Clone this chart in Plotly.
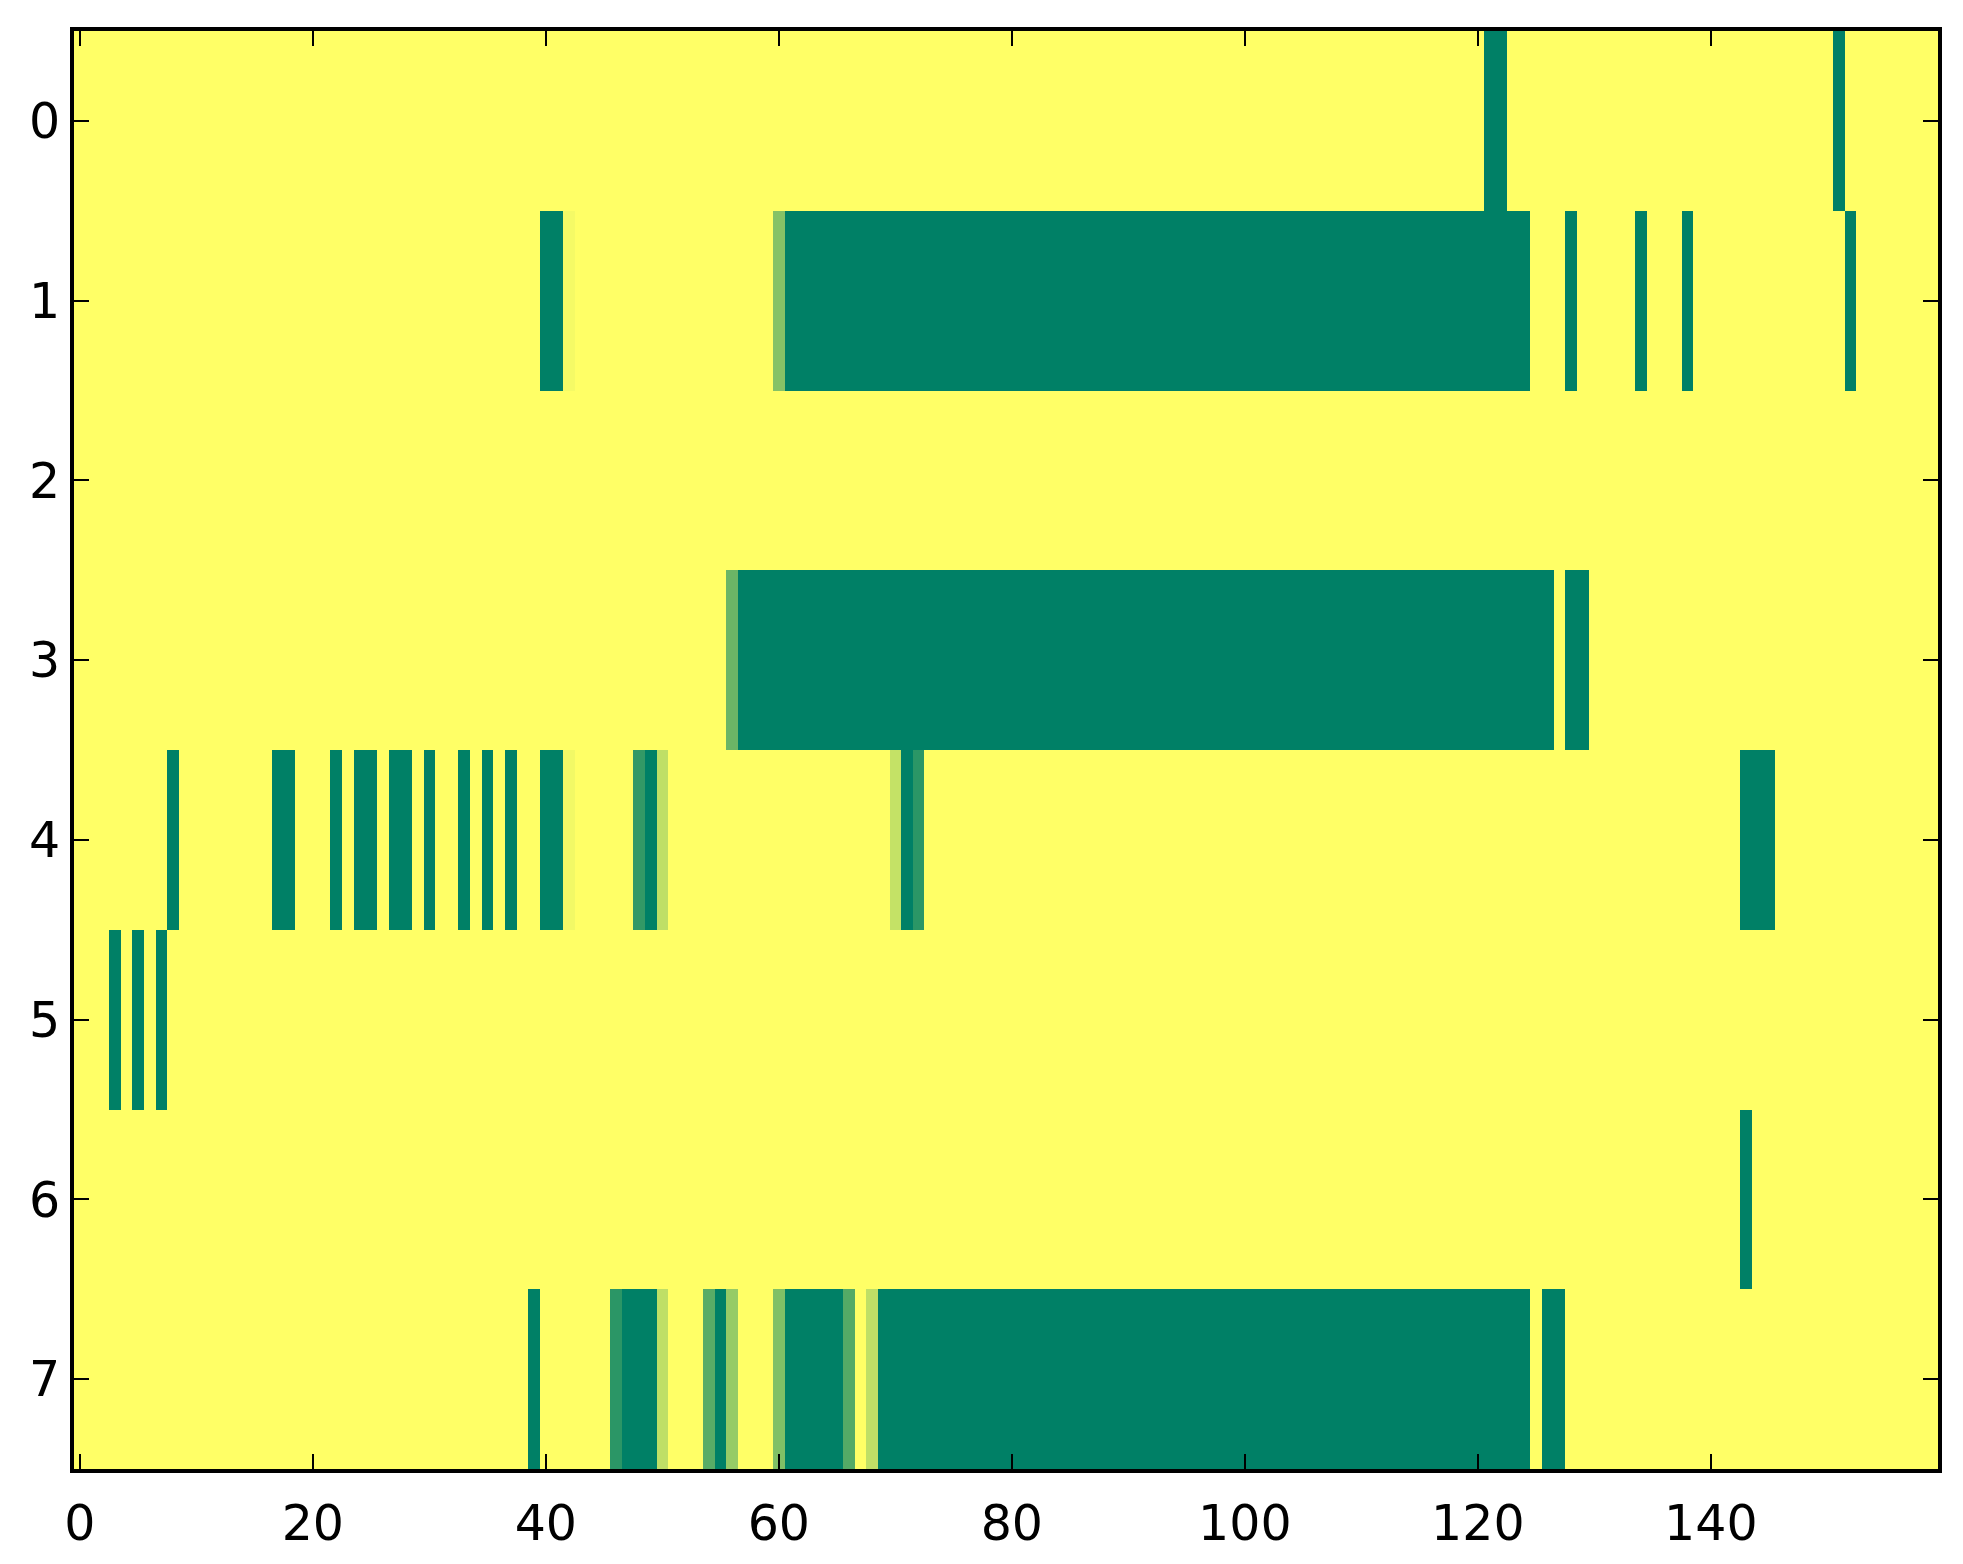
import numpy as np
import plotly.graph_objects as go

# Grid size
n_rows = 8
n_cols = 160

# Filled cells per row as (first column, last column, value); everything else is 0
row0 = [(121, 122, 1.0), (151, 151, 1.0)]
row1 = [(40, 41, 1.0), (42, 42, 0.04), (60, 60, 0.48), (61, 124, 1.0),
        (128, 128, 1.0), (134, 134, 1.0), (138, 138, 1.0), (152, 152, 1.0)]
row2 = []
row3 = [(56, 56, 0.58), (57, 126, 1.0), (128, 129, 1.0)]
row4 = [(8, 8, 1.0), (17, 18, 1.0), (22, 22, 1.0), (24, 25, 1.0), (27, 28, 1.0),
        (30, 30, 1.0), (33, 33, 1.0), (35, 35, 1.0), (37, 37, 1.0), (40, 41, 1.0),
        (42, 42, 0.05), (48, 48, 0.8), (49, 49, 1.0), (50, 50, 0.25),
        (70, 70, 0.23), (71, 71, 1.0), (72, 72, 0.83), (143, 145, 1.0)]
row5 = [(3, 3, 1.0), (5, 5, 1.0), (7, 7, 1.0)]
row6 = [(143, 143, 1.0)]
row7 = [(39, 39, 1.0), (46, 46, 0.83), (47, 49, 1.0), (50, 50, 0.25),
        (54, 54, 0.65), (55, 55, 1.0), (56, 56, 0.41), (60, 60, 0.5),
        (61, 65, 1.0), (66, 66, 0.67), (68, 68, 0.25), (69, 124, 1.0),
        (126, 127, 1.0)]

rows = [row0, row1, row2, row3, row4, row5, row6, row7]

x_ticks = [0, 20, 40, 60, 80, 100, 120, 140]
y_ticks = [0, 1, 2, 3, 4, 5, 6, 7]

# Build the matrix
z = np.zeros((n_rows, n_cols))
for r, runs in enumerate(rows):
    for start, end, val in runs:
        z[r, start:end + 1] = val

# summer_r colormap
colorscale = [[0, 'rgb(255,255,102)'], [1, 'rgb(0,128,102)']]

fig = go.Figure()
fig.add_trace(go.Heatmap(
    z=z,
    x=list(range(n_cols)),
    y=list(range(n_rows)),
    colorscale=colorscale,
    zmin=0,
    zmax=1,
    showscale=False
))

axis_style = dict(
    showline=True,
    linecolor='black',
    linewidth=4,
    mirror='allticks',
    ticks='inside',
    ticklen=15,
    tickwidth=2,
    tickcolor='black',
    showgrid=False,
    zeroline=False,
    tickfont=dict(family='DejaVu Sans', size=49, color='black')
)

# page body adds 8px, so the figure is 8px smaller
fig.update_layout(
    width=1955,
    height=1556,
    margin=dict(l=66, r=25, t=23, b=93),
    plot_bgcolor='white',
    paper_bgcolor='white',
    xaxis=dict(range=[-0.5, n_cols - 0.5], tickvals=x_ticks, ticklabelstandoff=8, **axis_style),
    yaxis=dict(range=[n_rows - 0.5, -0.5], tickvals=y_ticks, ticklabelstandoff=0, **axis_style)
)

fig.write_html("out.html")
